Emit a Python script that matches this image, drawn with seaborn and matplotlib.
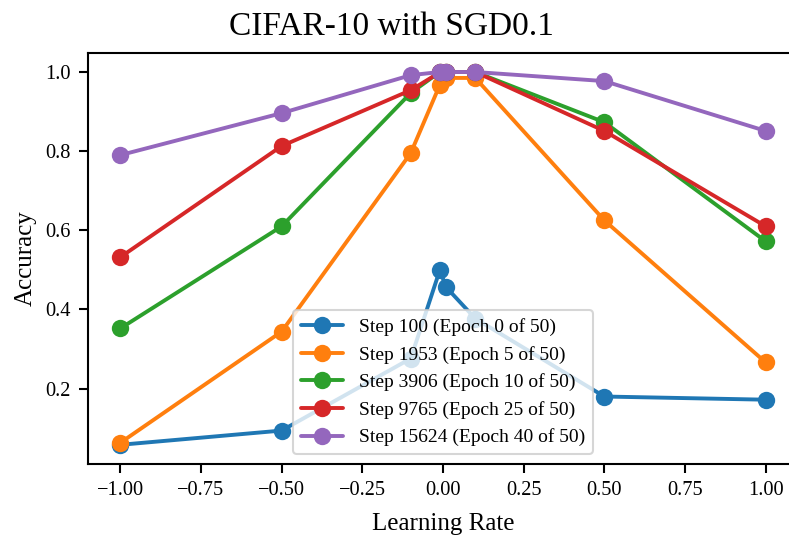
import numpy as np
import pandas as pd
import matplotlib
matplotlib.use("Agg")
import matplotlib.pyplot as plt
import seaborn as sns

learning_rates = [-1.0, -0.5, -0.1, -0.01, 0.01, 0.1, 0.5, 1.0]
labels = [
    "Step 100 (Epoch 0 of 50)",
    "Step 1953 (Epoch 5 of 50)",
    "Step 3906 (Epoch 10 of 50)",
    "Step 9765 (Epoch 25 of 50)",
    "Step 15624 (Epoch 40 of 50)",
]
acc_step100 = [0.058, 0.094, 0.276, 0.499, 0.456, 0.377, 0.180, 0.172]
acc_step1953 = [0.063, 0.344, 0.795, 0.967, 0.985, 0.985, 0.625, 0.266]
acc_step3906 = [0.352, 0.610, 0.947, 1.0, 1.0, 1.0, 0.873, 0.572]
acc_step9765 = [0.532, 0.813, 0.954, 0.999, 1.0, 1.0, 0.851, 0.610]
acc_step15624 = [0.790, 0.896, 0.992, 1.0, 1.0, 1.0, 0.977, 0.851]
series = [acc_step100, acc_step1953, acc_step3906, acc_step9765, acc_step15624]

rows = []
for lab, vals in zip(labels, series):
    for x, y in zip(learning_rates, vals):
        rows.append({"Learning Rate": x, "Accuracy": y, "run": lab})
df = pd.DataFrame(rows)

sns.set_style("ticks", {"text.color": "black", "axes.labelcolor": "black",
                        "xtick.color": "black", "ytick.color": "black",
                        "axes.edgecolor": "black"})
plt.rcParams["font.family"] = ["Liberation Serif", "DejaVu Serif"]
plt.rcParams["mathtext.fontset"] = "stix"

fig = plt.figure(figsize=(7.89, 5.36), dpi=100)
ax = fig.add_axes([88 / 789, (536 - 464) / 536, 710 / 789, 411 / 536])

sns.lineplot(data=df, x="Learning Rate", y="Accuracy", hue="run",
             hue_order=labels, palette="tab10", marker="o", markersize=12.5,
             markeredgewidth=0, linewidth=2.8, ax=ax, sort=True,
             estimator=None)

ax.set_xlim(-1.1, 1.1)
ax.set_ylim(0.0095, 1.048)
ax.set_xticks([-1.0, -0.75, -0.5, -0.25, 0.0, 0.25, 0.5, 0.75, 1.0])
ax.set_yticks([0.2, 0.4, 0.6, 0.8, 1.0])
ax.set_xticklabels(["\u22121.00", "\u22120.75", "\u22120.50", "\u22120.25",
                    "0.00", "0.25", "0.50", "0.75", "1.00"])
ax.set_yticklabels(["0.2", "0.4", "0.6", "0.8", "1.0"])
ax.tick_params(axis="both", labelsize=14.7, length=6.5, width=1.5,
               direction="out", pad=6, colors="black")
for sp in ax.spines.values():
    sp.set_linewidth(1.5)
    sp.set_color("black")
ax.set_xlabel("Learning Rate", fontsize=18, labelpad=9, color="black")
ax.set_ylabel("Accuracy", fontsize=18, labelpad=6, color="black")
fig.suptitle("CIFAR-10 with SGD0.1", fontsize=24, x=391.5 / 789, y=0.978,
             va="top", color="black")

leg = ax.legend(loc="lower center", fontsize=14, framealpha=0.8,
                handlelength=2.2, borderaxespad=0.5)
leg.get_frame().set_linewidth(1.5)
for t in leg.get_texts():
    t.set_color("black")

fig.savefig("out.png", dpi=100)
